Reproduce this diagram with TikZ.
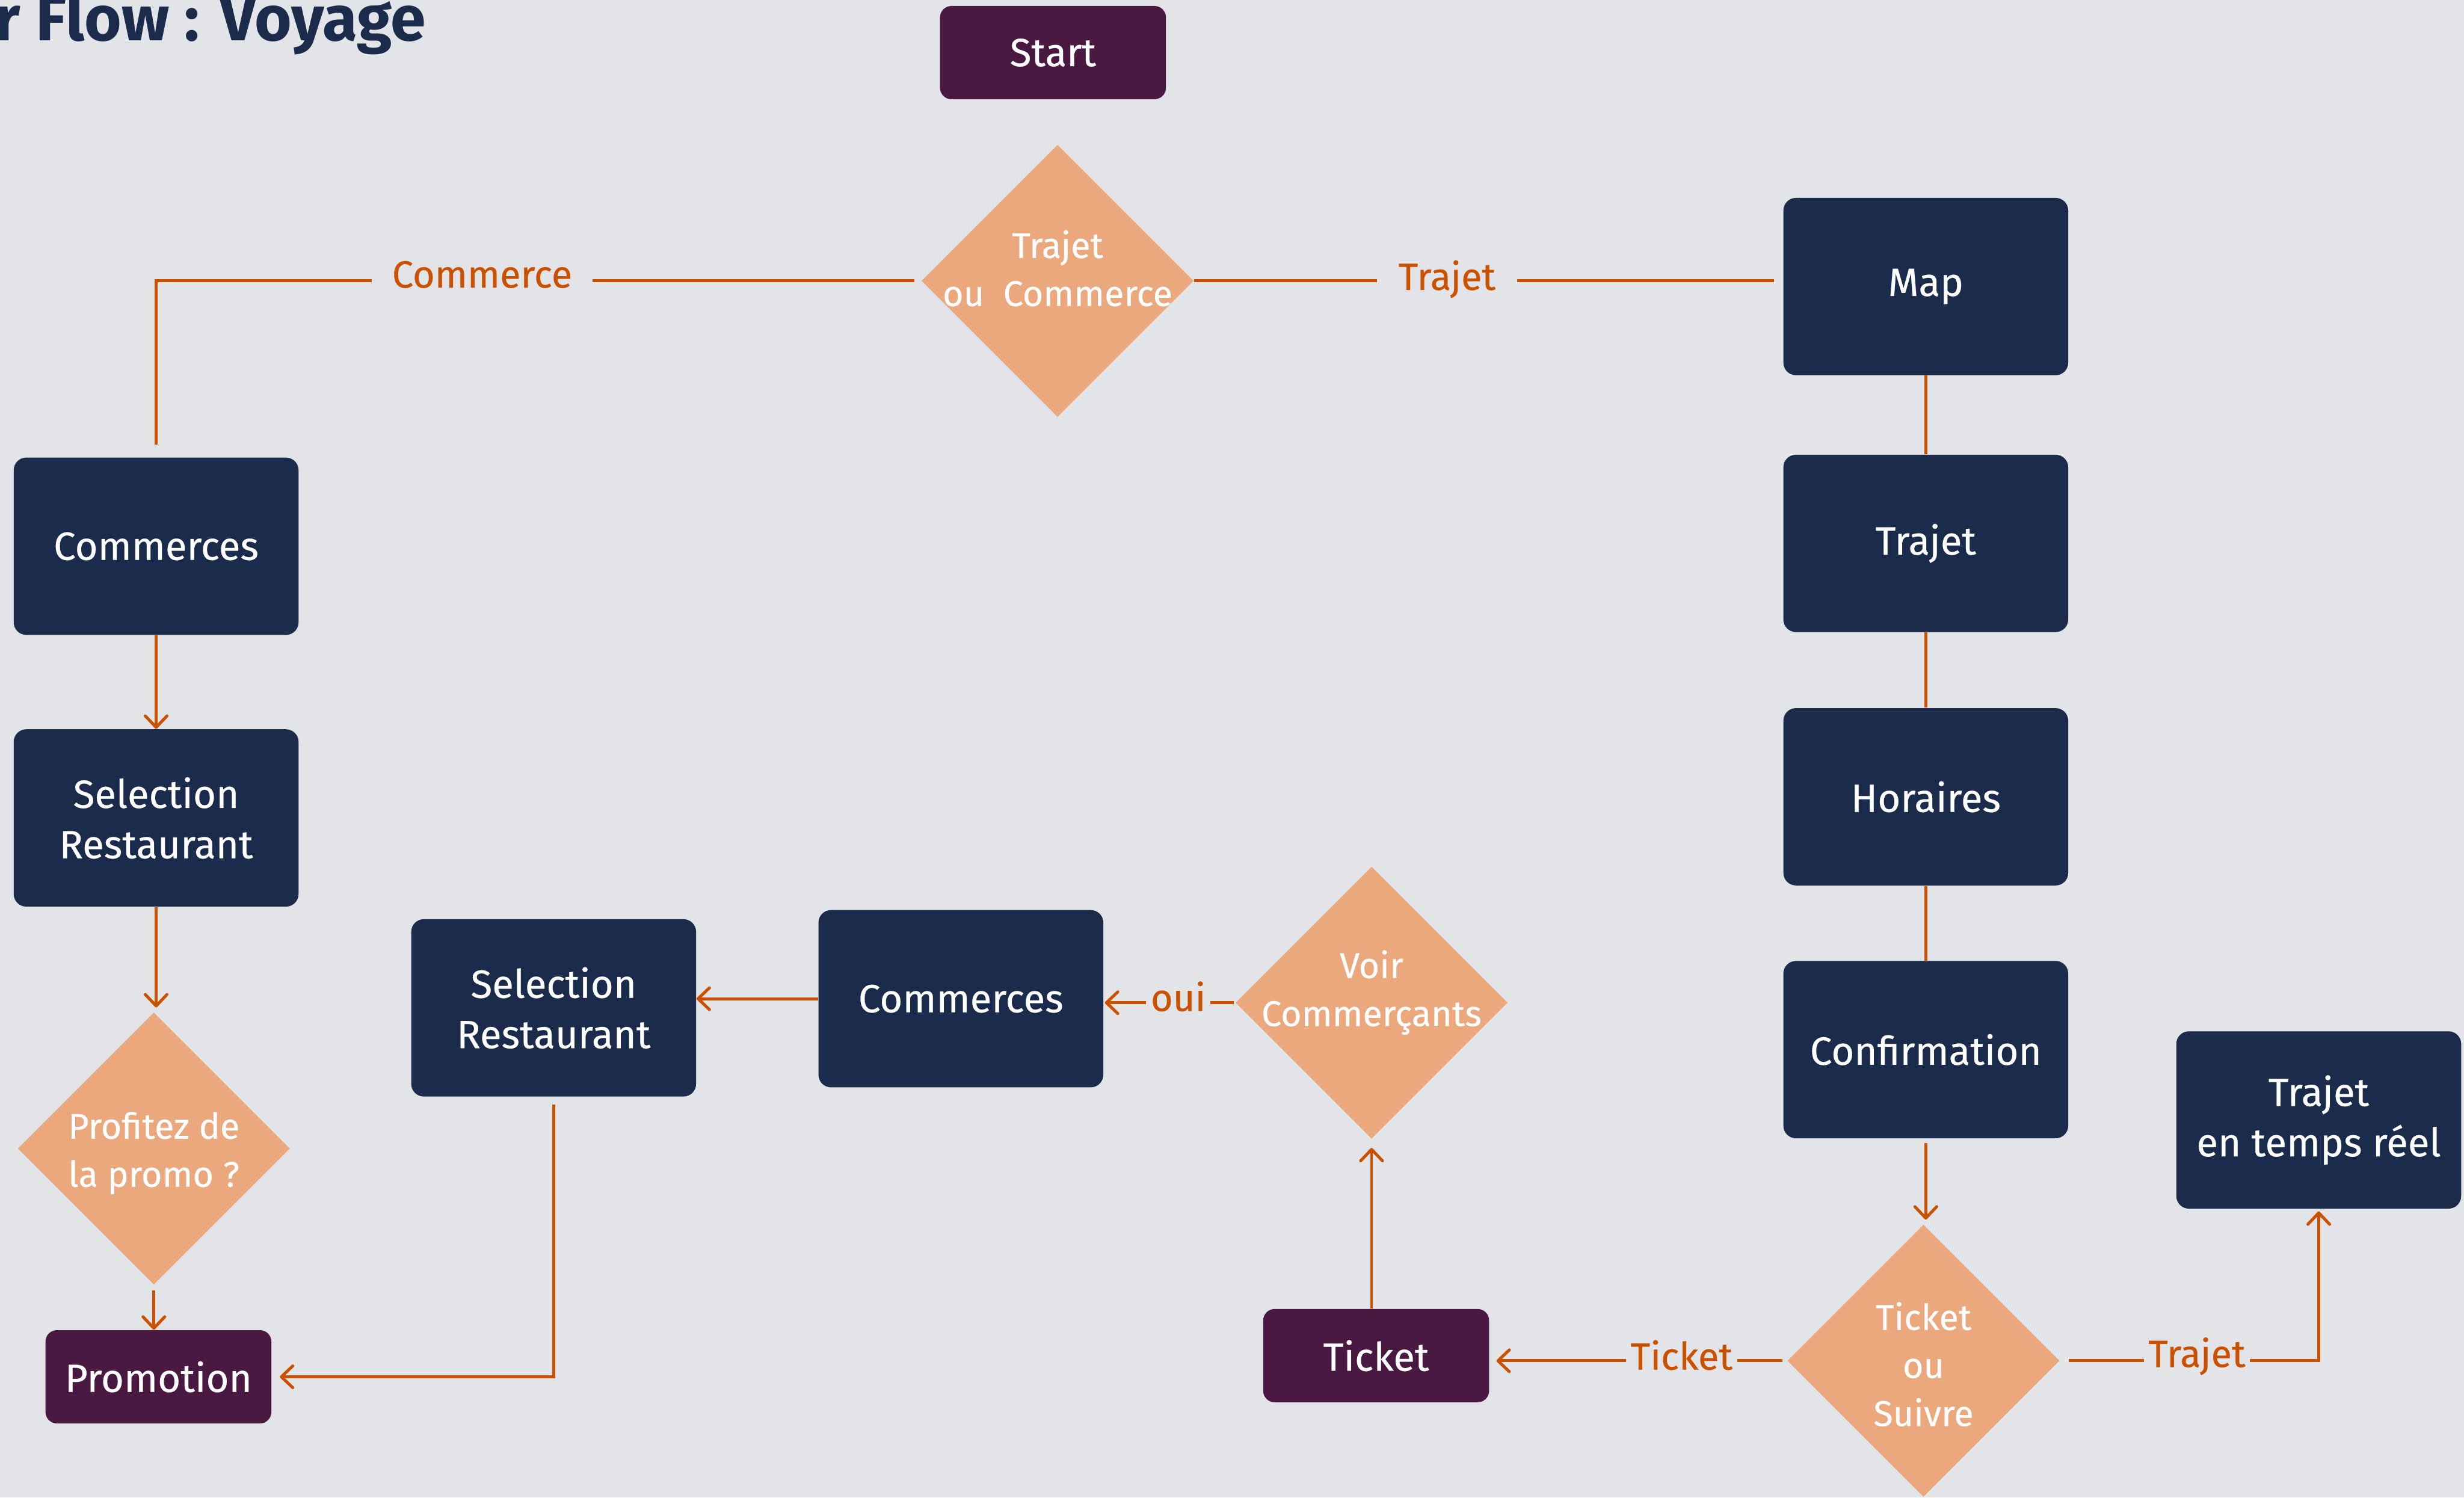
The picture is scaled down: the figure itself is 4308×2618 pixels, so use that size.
\documentclass[tikz,border=0pt]{standalone}
\usepackage{fontspec}
\setmainfont{Fira Sans}
\newfontfamily\medfont{Fira Sans}[FakeBold=0.35]
\usetikzlibrary{shapes.geometric,arrows.meta}
\definecolor{bgC}{HTML}{E2E4E8}
\definecolor{navyC}{HTML}{1A2B4B}
\definecolor{plumC}{HTML}{4A1941}
\definecolor{peachC}{HTML}{ECA87D}
\definecolor{rustC}{HTML}{CB5100}
\begin{document}
\begin{tikzpicture}[x=0.25pt,y=-0.25pt,
 navybox/.style={rectangle, rounded corners=5.5pt, fill=navyC, text=white, minimum width=124.5pt, minimum height=77.5pt, align=center, font=\medfont\fontsize{17.2}{22}\selectfont, inner sep=0pt},
 plumbox/.style={rectangle, rounded corners=5pt, fill=plumC, text=white, minimum width=98.75pt, minimum height=40.75pt, align=center, font=\medfont\fontsize{17.2}{22}\selectfont, inner sep=0pt},
 dia/.style={diamond, fill=peachC, minimum width=119pt, minimum height=119pt, inner sep=0pt},
 dtxt/.style={text=white, align=center, font=\medfont\fontsize{15.6}{21}\selectfont, inner sep=0pt},
 conn/.style={draw=rustC, line width=1.3pt},
 arr/.style={conn, -{Straight Barb[length=5pt,width=9.5pt,round]}},
 lbl/.style={fill=bgC, text=rustC, font=\medfont\fontsize{16.6}{19}\selectfont, inner ysep=1pt},
 titlestyle/.style={text=navyC, font=\bfseries\fontsize{27.8}{31}\selectfont, inner sep=0pt},
]
\fill[bgC] (0,0) rectangle (4308,2618);
\useasboundingbox (0,0) rectangle (4308,2618);

\node[titlestyle, anchor=base east] (title) at (745,71) {r Flow : Voyage};

% boxes
\node[plumbox] (start) at (1841,92) {Start};
\node[navybox] (map) at (3367,501) {Map};
\node[navybox] (trajet) at (3367,950) {Trajet};
\node[navybox] (horaires) at (3367,1393) {Horaires};
\node[navybox] (confirm) at (3367,1835) {Confirmation};
\node[navybox] (ttr) at (4054,1958) {Trajet\\en temps réel};
\node[navybox] (com1) at (273,955) {Commerces};
\node[navybox] (sel1) at (273,1430) {Selection\\Restaurant};
\node[navybox] (sel2) at (968,1762) {Selection\\Restaurant};
\node[navybox] (com2) at (1680,1746) {Commerces};
\node[plumbox] (promo) at (277,2407) {Promotion};
\node[plumbox] (ticket) at (2406,2370) {Ticket};

% diamonds
\node[dia, label={[dtxt, yshift=5.5pt]center:{Trajet\\ou~ Commerce}}] (d1) at (1849,491) {};
\node[dia, label={[dtxt, yshift=4.5pt]center:{Voir\\Commerçants}}] (d3) at (2398,1753) {};
\node[dia, label={[dtxt, yshift=-2pt]center:{Profitez de\\la promo ?}}] (d4) at (269,2008) {};
\node[dia, label={[dtxt, yshift=-1.5pt]center:{Ticket\\ou\\Suivre}}] (d2) at (3363,2379) {};

% connectors
\draw[conn, shorten <=3pt, shorten >=5.5pt] (d1.west) -| (com1.north);
\draw[conn, shorten >=4pt] (d1.east) -- (d1.east -| map.west);
\draw[conn] (map) -- (trajet);
\draw[conn] (trajet) -- (horaires);
\draw[conn] (horaires) -- (confirm);
\draw[arr, shorten <=2pt, shorten >=2pt] (confirm.south) -- (confirm.south |- d2.north);
\draw[arr, shorten <=2pt, shorten >=3pt] (d2.west) -- (d2.west -| ticket.east);
\draw[arr, shorten <=3.75pt, shorten >=1pt] (d2.east) -| (ttr.south);
\draw[arr, shorten >=3.75pt] (d3.south |- ticket.north) -- (d3.south);
\draw[arr, shorten <=0.5pt, shorten >=0.5pt] (d3.west) -- (d3.west -| com2.east);
\draw[arr] (com2.west) -- (com2.west -| sel2.east);
\draw[arr, shorten <=3.25pt, shorten >=3.5pt] (sel2.south) |- (promo.east);
\draw[arr] (com1.south) -- (com1.south |- sel1.north);
\draw[arr, shorten >=2pt] (sel1.south) -- (sel1.south |- d4.north);
\draw[arr, shorten <=2.25pt] (d4.south) -- (d4.south |- promo.north);

% labels
\node[lbl, inner xsep=9pt] (lcom) at (843,480) {Commerce};
\node[lbl, inner xsep=9.5pt] (ltra) at (2530,488) {Trajet};
\node[lbl, inner xsep=2pt] (ltick) at (2940,2369) {Ticket};
\node[lbl, inner xsep=2pt] (ltra2) at (3841,2371) {Trajet};
\node[lbl, inner xsep=2pt] (loui) at (2060,1742) {oui};
\end{tikzpicture}
\end{document}
